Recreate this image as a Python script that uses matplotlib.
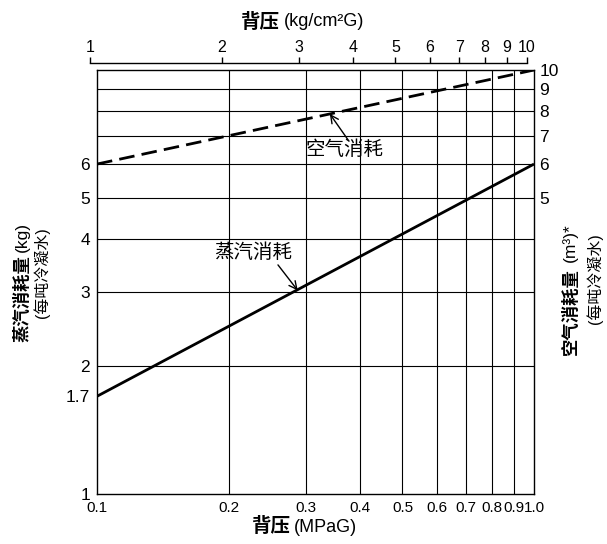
import matplotlib
matplotlib.use('Agg')
import matplotlib.pyplot as plt
from matplotlib.ticker import NullLocator, FixedLocator, FixedFormatter

plt.rcParams['font.family'] = ['Liberation Sans', 'Noto Sans CJK SC', 'DejaVu Sans']

# ---- data ----
mpa_ticks = [0.1, 0.2, 0.3, 0.4, 0.5, 0.6, 0.7, 0.8, 0.9, 1.0]
mpa_labels = ['0.1', '0.2', '0.3', '0.4', '0.5', '0.6', '0.7', '0.8', '0.9', '1.0']
kg_ticks = [1, 2, 3, 4, 5, 6, 7, 8, 9, 10]
kg_labels = ['1', '2', '3', '4', '5', '6', '7', '8', '9', '10']
steam_ticks = [1, 1.7, 2, 3, 4, 5, 6]
steam_labels = ['1', '1.7', '2', '3', '4', '5', '6']
air_ticks = [5, 6, 7, 8, 9, 10]
air_labels = ['5', '6', '7', '8', '9', '10']
grid_y = [2, 3, 4, 5, 6, 7, 8, 9]

pressure = [0.1, 1.0]
steam = [1.7, 6.0]
air = [6.0, 10.0]

W, H = 607, 544
fig = plt.figure(figsize=(W / 100, H / 100), dpi=100)

def fx(px):
    return px / W

def fy(py):
    return 1 - py / H

L, R, T, B = 97, 534, 70, 494
ax = fig.add_axes([fx(L), fy(B), fx(R - L), (B - T) / H])
ax.set_xscale('log')
ax.set_yscale('log')
ax.set_xlim(0.1, 1.0)
ax.set_ylim(1, 10)

# grid
ax.vlines(mpa_ticks[1:-1], 1, 10, color='black', lw=0.8, zorder=1)
ax.hlines(grid_y, 0.1, 1.0, color='black', lw=0.8, zorder=1)

# lines
ax.plot(pressure, steam, color='black', lw=2.0, solid_capstyle='butt', zorder=3)
ax.plot(pressure, air, color='black', lw=2.0, linestyle=(0, (5.6, 2.6)), zorder=3)

for s in ax.spines.values():
    s.set_linewidth(1.0)

ax.xaxis.set_major_locator(FixedLocator(mpa_ticks))
ax.xaxis.set_major_formatter(FixedFormatter(mpa_labels))
ax.xaxis.set_minor_locator(NullLocator())
ax.yaxis.set_major_locator(FixedLocator(steam_ticks))
ax.yaxis.set_major_formatter(FixedFormatter(steam_labels))
ax.yaxis.set_minor_locator(NullLocator())
ax.tick_params(axis='x', length=0, pad=5, labelsize=11)
ax.tick_params(axis='y', length=0, pad=5, labelsize=12.5)

ax2 = ax.twinx()
ax2.set_yscale('log')
ax2.set_ylim(1, 10)
ax2.yaxis.set_major_locator(FixedLocator(air_ticks))
ax2.yaxis.set_major_formatter(FixedFormatter(air_labels))
ax2.yaxis.set_minor_locator(NullLocator())
ax2.tick_params(axis='y', length=0, pad=4, labelsize=12.5)
for s in ax2.spines.values():
    s.set_visible(False)

# top axis (kg/cm2G)
axt = fig.add_axes([fx(90), fy(63), fx(437), 0.0001])
axt.set_xscale('log')
axt.set_xlim(1, 10)
axt.patch.set_visible(False)
for k in ['left', 'right', 'bottom']:
    axt.spines[k].set_visible(False)
axt.spines['top'].set_linewidth(1.0)
axt.set_yticks([])
axt.xaxis.tick_top()
axt.xaxis.set_major_locator(FixedLocator(kg_ticks))
axt.xaxis.set_major_formatter(FixedFormatter(kg_labels))
axt.xaxis.set_minor_locator(NullLocator())
axt.tick_params(axis='x', direction='out', length=4, width=1.0, pad=2, labelsize=11.5)

# annotations
ax.text(0.369, 6.48, '空气消耗', fontsize=14, ha='center', va='center', zorder=5)
ax.annotate('', xy=(0.341, 7.88), xytext=(0.3755, 6.84),
            arrowprops=dict(arrowstyle='->', lw=1.0, color='black', shrinkA=0, shrinkB=0,
                            mutation_scale=14), zorder=5)
ax.text(0.2275, 3.70, '蒸汽消耗', fontsize=14, ha='center', va='center', zorder=5)
ax.annotate('', xy=(0.288, 3.02), xytext=(0.2595, 3.47),
            arrowprops=dict(arrowstyle='->', lw=1.0, color='black', shrinkA=0, shrinkB=0,
                            mutation_scale=14), zorder=5)

# axis titles
fig.text(fx(279), fy(22), '背压', fontsize=14, weight='bold', ha='right', va='center')
fig.text(fx(284), fy(22), '(kg/cm²G)', fontsize=13, ha='left', va='center')
fig.text(fx(290), fy(527), '背压', fontsize=14, weight='bold', ha='right', va='center')
fig.text(fx(294), fy(527), '(MPaG)', fontsize=13, ha='left', va='center')

# left label
fig.text(fx(22), fy(342), '蒸汽消耗量', fontsize=12.5, weight='bold', rotation=90,
         ha='center', va='bottom')
fig.text(fx(22), fy(252), '(kg)', fontsize=12.5, rotation=90, ha='center', va='bottom')
fig.text(fx(42), fy(273), '(每吨冷凝水)', fontsize=11.5, rotation=90, ha='center', va='center')

# right label
fig.text(fx(570), fy(355), '空气消耗量', fontsize=12.5, weight='bold', rotation=90,
         ha='center', va='bottom')
fig.text(fx(570), fy(262), '(m³)*', fontsize=12.5, rotation=90, ha='center', va='bottom')
fig.text(fx(595), fy(279), '(每吨冷凝水)', fontsize=11.5, rotation=90, ha='center', va='center')

fig.savefig('out.png', dpi=100)
